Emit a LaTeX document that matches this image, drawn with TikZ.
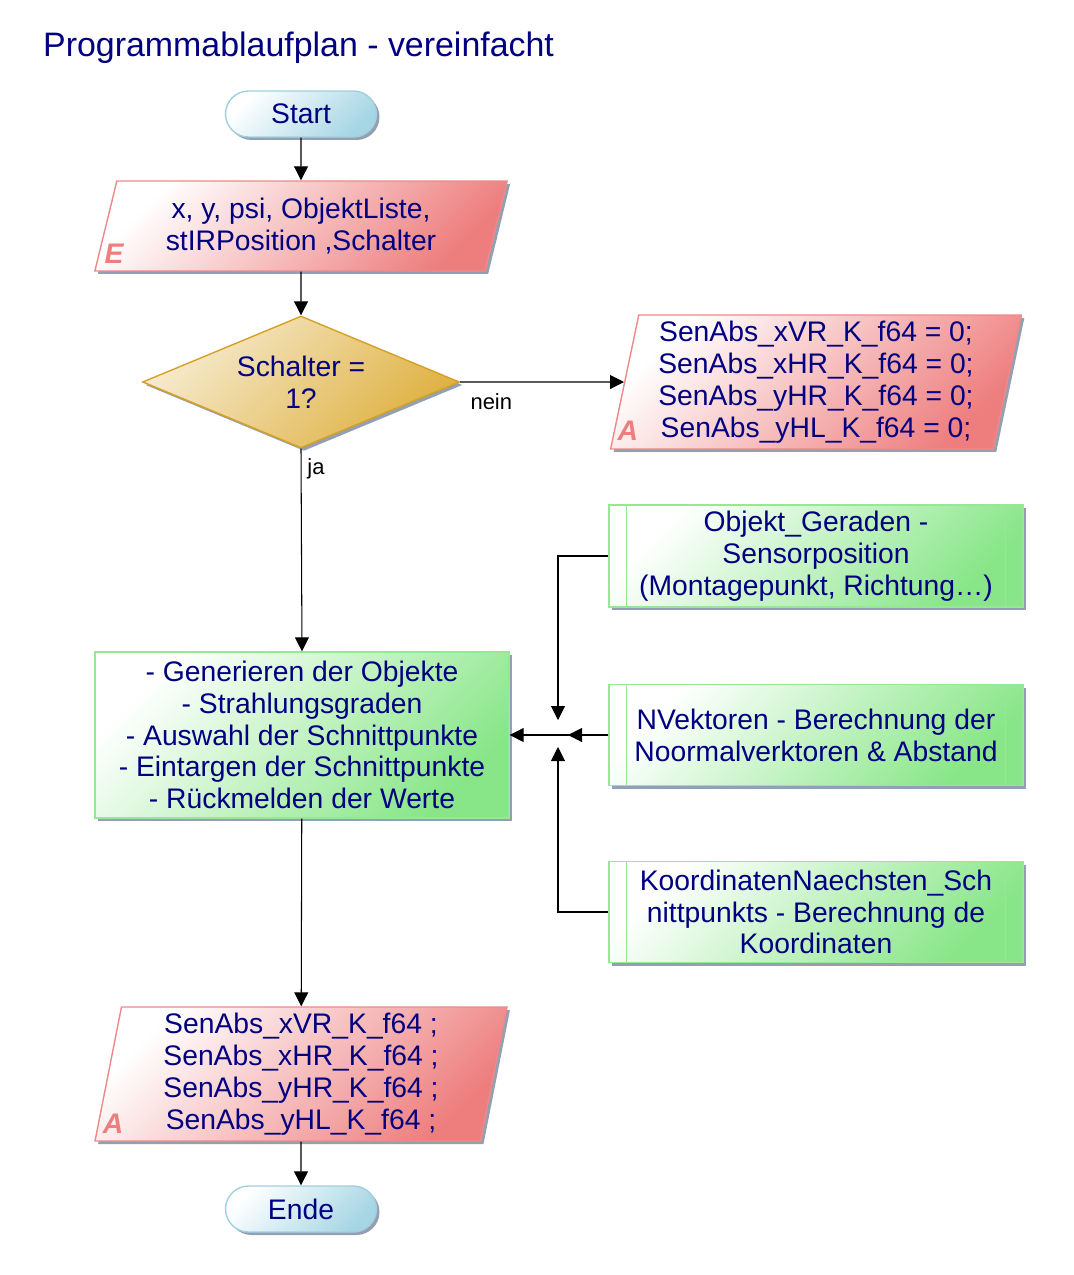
\documentclass[tikz,border=0pt]{standalone}
\usepackage{fontspec}
\setmainfont{Liberation Sans}
\usetikzlibrary{shapes.geometric, shadows, arrows.meta, calc}

\definecolor{txtblue}{RGB}{0,0,128}
\definecolor{termfill}{RGB}{166,214,228}
\definecolor{termline}{RGB}{160,208,224}
\definecolor{iofill}{RGB}{238,126,126}
\definecolor{ioline}{RGB}{240,136,136}
\definecolor{decfill}{RGB}{222,176,64}
\definecolor{decline}{RGB}{214,160,36}
\definecolor{procfill}{RGB}{136,230,136}
\definecolor{procline}{RGB}{150,232,150}
\definecolor{shadowgrey}{RGB}{136,150,168}

\begin{document}
\begin{tikzpicture}[x=0.02cm, y=-0.02cm, % 1 unit = 1 px of the plan
    every node/.style = {font=\fontsize{16.1}{18.1}\selectfont, text=txtblue, align=center},
    myshadow/.style = {drop shadow={shadow xshift=0.06cm, shadow yshift=-0.06cm, fill=shadowgrey, opacity=0.9}},
    terminal/.style = {draw=termline, line width=0.8pt, top color=white, bottom color=termfill, shading angle=45,
        rounded corners=0.46cm, minimum width=3.02cm, minimum height=0.92cm, myshadow},
    io/.style = {trapezium, trapezium stretches=true, draw=ioline, line width=0.8pt,
        top color=white, bottom color=iofill, shading angle=45, myshadow},
    decision/.style = {diamond, aspect=2.4, draw=decline, line width=0.8pt, top color=decfill!25, bottom color=decfill,
        shading angle=45, minimum width=6.34cm, minimum height=2.64cm, inner sep=0pt, myshadow},
    process/.style = {rectangle, draw=procline, line width=0.8pt, top color=white, bottom color=procfill,
        shading angle=45, minimum width=8.28cm, myshadow},
    iomark/.style = {font=\fontsize{16.1}{18.1}\selectfont\bfseries\itshape, text=iofill},
    flowlabel/.style = {font=\fontsize{12.5}{14}\selectfont, text=black},
    flow/.style = {-{Triangle[length=0.28cm, width=0.28cm]}, line width=0.6pt}]

    \useasboundingbox (0,0) rectangle (1074,1275);

    \node[anchor=west, font=\fontsize{19.3}{22}\selectfont] (titel) at (37,48) {Programmablaufplan - vereinfacht};

    % Main chain
    \node[terminal] (start) at (301,114) {Start};
    \node[io, trapezium left angle=76, trapezium right angle=104, minimum width=8.26cm, minimum height=1.8cm]
        (eingabe) at (301,226) {x, y, psi, ObjektListe,\\stIRPosition ,Schalter};
    \node[iomark] at ($(eingabe.bottom left corner)+(20,-18)$) {E};
    \node[decision] (frage) at (301,382) {Schalter =\\1?};
    \node[io, trapezium left angle=79, trapezium right angle=101, minimum width=8.24cm, minimum height=2.68cm]
        (init) at (816,382) {SenAbs\_xVR\_K\_f64 = 0;\\SenAbs\_xHR\_K\_f64 = 0;\\SenAbs\_yHR\_K\_f64 = 0;\\SenAbs\_yHL\_K\_f64 = 0;};
    \node[iomark] at ($(init.bottom left corner)+(18,-19)$) {A};
    \node[process, minimum height=3.32cm] (proz) at (302,735)
        {- Generieren der Objekte\\- Strahlungsgraden\\- Auswahl der Schnittpunkte\\- Eintargen der Schnittpunkte\\- Rückmelden der Werte};
    \node[io, trapezium left angle=81, trapezium right angle=99, minimum width=8.26cm, minimum height=2.68cm]
        (ausgabe) at (301,1074) {SenAbs\_xVR\_K\_f64 ;\\SenAbs\_xHR\_K\_f64 ;\\SenAbs\_yHR\_K\_f64 ;\\SenAbs\_yHL\_K\_f64 ;};
    \node[iomark] at ($(ausgabe.bottom left corner)+(19,-18)$) {A};
    \node[terminal] (ende) at (301,1209) {Ende};

    % Subprocesses
    \node[process, minimum height=2.02cm] (sub1) at (816,556) {Objekt\_Geraden -\\Sensorposition\\(Montagepunkt, Richtung…)};
    \node[process, minimum height=2.02cm] (sub2) at (816,735) {NVektoren - Berechnung der\\Noormalverktoren \& Abstand};
    \node[process, minimum height=2.02cm] (sub3) at (816,912) {KoordinatenNaechsten\_Sch\\nittpunkts - Berechnung de\\Koordinaten};
    \foreach \s in {sub1, sub2, sub3} {
        \draw[procline, line width=0.8pt] ($(\s.north west)+(18,0)$) -- ($(\s.south west)+(18,0)$);
        \draw[procline, line width=0.8pt] ($(\s.north east)+(-18,0)$) -- ($(\s.south east)+(-18,0)$);
    }

    % Connectors
    \draw[flow] (start) -- (eingabe);
    \draw[flow] (eingabe) -- (frage);
    \draw[flow] (frage.east) -- (init.west) node[flowlabel, pos=0.19, yshift=-0.4cm] {nein};
    \draw[flow] (frage.south) -- (proz.north) node[flowlabel, pos=0.1, right] {ja};
    \draw[flow] (proz) -- (ausgabe);
    \draw[flow] (ausgabe) -- (ende);

    \coordinate (knoten) at (558,735);
    \draw[flow, shorten >=0.3cm] (sub1.west) -| (knoten);
    \draw[flow, shorten >=0.24cm] (sub3.west) -| (knoten);
    \draw[flow] (sub2.west) -- (proz.east);
    \draw[flow, shorten >=0.2cm] (sub2.west) -- (knoten);
\end{tikzpicture}
\end{document}
